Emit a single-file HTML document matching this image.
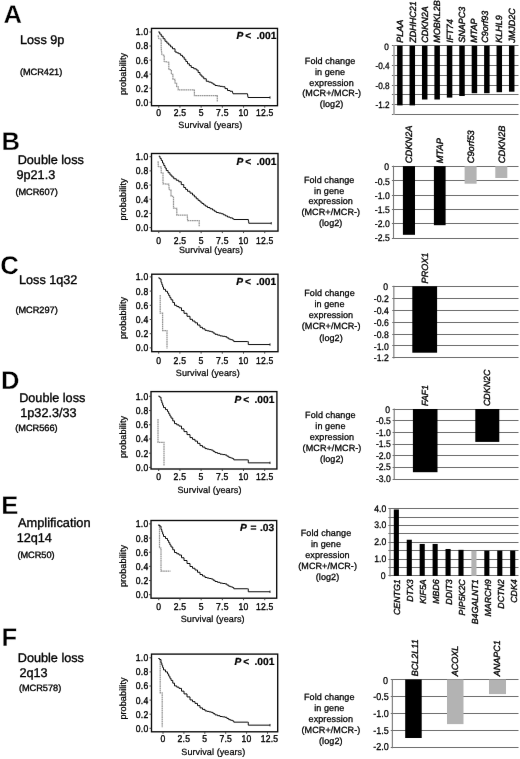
<!DOCTYPE html>
<html lang="en">
<head>
<meta charset="utf-8">
<title>Survival and gene expression by MCR</title>
<style>
html,body{margin:0;padding:0;background:#fff;}
body{width:520px;height:759px;overflow:hidden;}
svg{display:block;font-family:"Liberation Sans", sans-serif;text-rendering:geometricPrecision;}
</style>
</head>
<body>
<svg width="520" height="759" viewBox="0 0 520 759" role="img" aria-label="Kaplan-Meier survival curves and fold change in gene expression for six minimal common regions">
<defs><filter id="soft" x="0" y="0" width="520" height="759" filterUnits="userSpaceOnUse" color-interpolation-filters="sRGB"><feConvolveMatrix order="3" kernelMatrix="0.00087 0.02776 0.00087 0.02776 0.88549 0.02776 0.00087 0.02776 0.00087" divisor="1" edgeMode="duplicate" preserveAlpha="true"/></filter></defs>
<rect x="0" y="0" width="520" height="759" fill="#fff"/>
<g filter="url(#soft)">
<rect x="0" y="0" width="520" height="759" fill="#fff"/>
<g id="panel-A">
<text font-size="25.6" font-weight="bold" transform="translate(3.40 23.40) scale(1.0 1)" fill="#000" stroke="#fff" stroke-width="0.3">A</text>
<text x="20.00" y="44.30" font-size="12.66" fill="#000" stroke="#000" stroke-width="0.34">Loss 9p</text>
<text x="19.90" y="74.60" font-size="9.2" fill="#000" stroke="#000" stroke-width="0.34">(MCR421)</text>
<rect x="151.50" y="28.40" width="126.00" height="77.30" fill="none" stroke="#0a0a0a" stroke-width="1.35"/>
<line x1="149.50" y1="102.20" x2="151.50" y2="102.20" stroke="#333" stroke-width="0.9"/>
<text font-size="9.9" text-anchor="end" transform="translate(148.45 105.65) scale(0.87 1)" fill="#000" stroke="#000" stroke-width="0.36" letter-spacing="0.25">0.0</text>
<line x1="149.50" y1="88.16" x2="151.50" y2="88.16" stroke="#333" stroke-width="0.9"/>
<text font-size="9.9" text-anchor="end" transform="translate(148.45 91.61) scale(0.87 1)" fill="#000" stroke="#000" stroke-width="0.36" letter-spacing="0.25">0.2</text>
<line x1="149.50" y1="74.12" x2="151.50" y2="74.12" stroke="#333" stroke-width="0.9"/>
<text font-size="9.9" text-anchor="end" transform="translate(148.45 77.57) scale(0.87 1)" fill="#000" stroke="#000" stroke-width="0.36" letter-spacing="0.25">0.4</text>
<line x1="149.50" y1="60.08" x2="151.50" y2="60.08" stroke="#333" stroke-width="0.9"/>
<text font-size="9.9" text-anchor="end" transform="translate(148.45 63.53) scale(0.87 1)" fill="#000" stroke="#000" stroke-width="0.36" letter-spacing="0.25">0.6</text>
<line x1="149.50" y1="46.04" x2="151.50" y2="46.04" stroke="#333" stroke-width="0.9"/>
<text font-size="9.9" text-anchor="end" transform="translate(148.45 49.49) scale(0.87 1)" fill="#000" stroke="#000" stroke-width="0.36" letter-spacing="0.25">0.8</text>
<line x1="149.50" y1="32.00" x2="151.50" y2="32.00" stroke="#333" stroke-width="0.9"/>
<text font-size="9.9" text-anchor="end" transform="translate(148.45 35.45) scale(0.87 1)" fill="#000" stroke="#000" stroke-width="0.36" letter-spacing="0.25">1.0</text>
<line x1="158.75" y1="105.70" x2="158.75" y2="107.70" stroke="#333" stroke-width="0.9"/>
<text font-size="9.9" text-anchor="middle" transform="translate(158.75 115.60) scale(0.87 1)" fill="#000" stroke="#000" stroke-width="0.36" letter-spacing="0.25">0</text>
<line x1="179.95" y1="105.70" x2="179.95" y2="107.70" stroke="#333" stroke-width="0.9"/>
<text font-size="9.9" text-anchor="middle" transform="translate(179.95 115.60) scale(0.87 1)" fill="#000" stroke="#000" stroke-width="0.36" letter-spacing="0.25">2.5</text>
<line x1="201.15" y1="105.70" x2="201.15" y2="107.70" stroke="#333" stroke-width="0.9"/>
<text font-size="9.9" text-anchor="middle" transform="translate(201.15 115.60) scale(0.87 1)" fill="#000" stroke="#000" stroke-width="0.36" letter-spacing="0.25">5</text>
<line x1="222.35" y1="105.70" x2="222.35" y2="107.70" stroke="#333" stroke-width="0.9"/>
<text font-size="9.9" text-anchor="middle" transform="translate(222.35 115.60) scale(0.87 1)" fill="#000" stroke="#000" stroke-width="0.36" letter-spacing="0.25">7.5</text>
<line x1="243.55" y1="105.70" x2="243.55" y2="107.70" stroke="#333" stroke-width="0.9"/>
<text font-size="9.9" text-anchor="middle" transform="translate(243.55 115.60) scale(0.87 1)" fill="#000" stroke="#000" stroke-width="0.36" letter-spacing="0.25">10</text>
<line x1="264.75" y1="105.70" x2="264.75" y2="107.70" stroke="#333" stroke-width="0.9"/>
<text font-size="9.9" text-anchor="middle" transform="translate(264.75 115.60) scale(0.87 1)" fill="#000" stroke="#000" stroke-width="0.36" letter-spacing="0.25">12.5</text>
<text x="210.30" y="128.40" font-size="9.05" text-anchor="middle" fill="#000" stroke="#000" stroke-width="0.23" letter-spacing="0.07">Survival (years)</text>
<text font-size="9.1" text-anchor="middle" transform="translate(126.40 74.00) rotate(-90)" fill="#000" stroke="#000" stroke-width="0.23" letter-spacing="0.07">probability</text>
<text x="236.60" y="38.70" font-size="10.2" font-weight="bold" fill="#000" stroke="#000" stroke-width="0.24" style="white-space:pre"><tspan font-style="italic">P</tspan><tspan dx="1.8">&lt;</tspan><tspan dx="2.55"> .001</tspan></text>
<path d="M158.10 35.40L158.80 38.50L161.20 39.20L161.20 48.50L161.90 54.60L164.20 55.40L164.20 61.50L168.80 62.30L168.80 69.20L171.40 70.00L171.40 74.20L172.90 74.40L172.90 79.20L175.00 79.40L175.00 83.00L176.60 83.20L176.60 86.50L178.20 86.70L178.20 89.80L194.40 90.00L194.40 95.60L217.30 95.60L217.30 101.60" fill="none" stroke="#949494" stroke-width="1.25" stroke-dasharray="1.7 0.5"/>
<path d="M158.25 32.00H159.75V34.12H161.25V36.25H163.12V38.75H165.00V41.25H166.88V43.12H168.75V45.00H170.62V46.88H172.50V48.75H175.00V52.00H176.88V52.88H178.75V53.75H180.62V55.38H182.50V57.00H184.17V59.25H185.83V61.50H187.50V63.75H189.38V65.62H191.25V67.50H193.75V68.75H196.25V70.00H198.12V72.50H200.00V75.00H201.88V76.88H203.75V78.75H206.25V81.25H208.75V82.12H211.25V83.00H213.12V84.25H215.00V85.50H217.50V85.92H220.00V86.33H222.50V86.75H225.00V88.62H227.50V90.50H230.00V91.25H232.50V92.00L233.00 93.75L247.50 93.75L248.00 97.50L270.00 97.50" fill="none" stroke="#0c0c0c" stroke-width="1.0" stroke-linejoin="round"/>
<line x1="270.00" y1="96.30" x2="270.00" y2="98.70" stroke="#1a1a1a" stroke-width="0.9"/>
<line x1="391.90" y1="45.50" x2="518.50" y2="45.50" stroke="#6c6c6c" stroke-width="1.0"/>
<line x1="391.90" y1="55.50" x2="518.50" y2="55.50" stroke="#6c6c6c" stroke-width="1.0"/>
<line x1="391.90" y1="65.50" x2="518.50" y2="65.50" stroke="#6c6c6c" stroke-width="1.0"/>
<line x1="391.90" y1="75.50" x2="518.50" y2="75.50" stroke="#6c6c6c" stroke-width="1.0"/>
<line x1="391.90" y1="85.50" x2="518.50" y2="85.50" stroke="#6c6c6c" stroke-width="1.0"/>
<line x1="391.90" y1="94.50" x2="518.50" y2="94.50" stroke="#6c6c6c" stroke-width="1.0"/>
<line x1="391.90" y1="104.50" x2="518.50" y2="104.50" stroke="#6c6c6c" stroke-width="1.0"/>
<line x1="391.90" y1="114.50" x2="518.50" y2="114.50" stroke="#6c6c6c" stroke-width="1.0"/>
<line x1="394.00" y1="45.20" x2="394.00" y2="115.01" stroke="#a2a2a2" stroke-width="1.6"/>
<text font-size="9.3" text-anchor="end" transform="translate(388.90 50.45) scale(0.88 1)" fill="#000" stroke="#000" stroke-width="0.28">0</text>
<text font-size="9.3" text-anchor="end" transform="translate(389.60 69.11) scale(0.88 1)" fill="#000" stroke="#000" stroke-width="0.28">-0.4</text>
<text font-size="9.3" text-anchor="end" transform="translate(389.60 88.77) scale(0.88 1)" fill="#000" stroke="#000" stroke-width="0.28">-0.8</text>
<text font-size="9.3" text-anchor="end" transform="translate(389.60 108.43) scale(0.88 1)" fill="#000" stroke="#000" stroke-width="0.28">-1.2</text>
<rect x="397.10" y="45.70" width="5.50" height="59.70" fill="#000"/>
<rect x="409.53" y="45.70" width="5.50" height="59.70" fill="#000"/>
<rect x="421.96" y="45.70" width="5.50" height="53.80" fill="#000"/>
<rect x="434.39" y="45.70" width="5.50" height="53.80" fill="#000"/>
<rect x="446.82" y="45.70" width="5.50" height="51.90" fill="#000"/>
<rect x="459.25" y="45.70" width="5.50" height="50.30" fill="#000"/>
<rect x="471.68" y="45.70" width="5.50" height="47.50" fill="#000"/>
<rect x="484.11" y="45.70" width="5.50" height="47.50" fill="#000"/>
<rect x="496.54" y="45.70" width="5.50" height="46.50" fill="#000"/>
<rect x="508.97" y="45.70" width="5.50" height="46.00" fill="#000"/>
<text font-size="9" font-style="italic" transform="translate(402.85 42.80) rotate(-90)" fill="#000" stroke="#000" stroke-width="0.34">PLAA</text>
<text font-size="9" font-style="italic" transform="translate(415.58 42.80) rotate(-90)" fill="#000" stroke="#000" stroke-width="0.34">ZDHHC21</text>
<text font-size="9" font-style="italic" transform="translate(427.71 42.80) rotate(-90)" fill="#000" stroke="#000" stroke-width="0.34">CDKN2A</text>
<text font-size="9" font-style="italic" transform="translate(440.14 42.80) rotate(-90)" fill="#000" stroke="#000" stroke-width="0.34">MOBKL2B</text>
<text font-size="9" font-style="italic" transform="translate(452.57 42.80) rotate(-90)" fill="#000" stroke="#000" stroke-width="0.34">IFT74</text>
<text font-size="9" font-style="italic" transform="translate(464.60 42.80) rotate(-90)" fill="#000" stroke="#000" stroke-width="0.34">SNAPC3</text>
<text font-size="9" font-style="italic" transform="translate(477.43 42.80) rotate(-90)" fill="#000" stroke="#000" stroke-width="0.34">MTAP</text>
<text font-size="9" font-style="italic" transform="translate(487.86 42.80) rotate(-90)" fill="#000" stroke="#000" stroke-width="0.34">C9orf93</text>
<text font-size="9" font-style="italic" transform="translate(502.29 42.80) rotate(-90)" fill="#000" stroke="#000" stroke-width="0.34">KLHL9</text>
<text font-size="9" font-style="italic" transform="translate(514.72 42.80) rotate(-90)" fill="#000" stroke="#000" stroke-width="0.34">JMJD2C</text>
<text x="330.10" y="64.30" font-size="9.05" text-anchor="middle" fill="#000" stroke="#000" stroke-width="0.26" letter-spacing="0.07">Fold change</text>
<text x="330.10" y="75.00" font-size="9.05" text-anchor="middle" fill="#000" stroke="#000" stroke-width="0.26" letter-spacing="0.07">in gene</text>
<text x="331.60" y="85.70" font-size="9.05" text-anchor="middle" fill="#000" stroke="#000" stroke-width="0.26" letter-spacing="0.07">expression</text>
<text x="331.70" y="96.40" font-size="9.05" text-anchor="middle" fill="#000" stroke="#000" stroke-width="0.26" letter-spacing="0.07">(MCR+/MCR-)</text>
<text x="331.60" y="107.10" font-size="9.05" text-anchor="middle" fill="#000" stroke="#000" stroke-width="0.26" letter-spacing="0.07">(log2)</text>
</g>
<g id="panel-B">
<text font-size="25.6" font-weight="bold" transform="translate(1.60 150.00) scale(1.0 1)" fill="#000" stroke="#fff" stroke-width="0.3">B</text>
<text x="17.70" y="163.80" font-size="12.66" fill="#000" stroke="#000" stroke-width="0.34">Double loss</text>
<text x="16.50" y="178.80" font-size="12.66" fill="#000" stroke="#000" stroke-width="0.34">9p21.3</text>
<text x="15.40" y="194.50" font-size="9.2" fill="#000" stroke="#000" stroke-width="0.34">(MCR607)</text>
<rect x="151.50" y="153.50" width="126.50" height="77.60" fill="none" stroke="#0a0a0a" stroke-width="1.35"/>
<line x1="149.50" y1="227.60" x2="151.50" y2="227.60" stroke="#333" stroke-width="0.9"/>
<text font-size="9.9" text-anchor="end" transform="translate(148.45 231.05) scale(0.87 1)" fill="#000" stroke="#000" stroke-width="0.36" letter-spacing="0.25">0.0</text>
<line x1="149.50" y1="213.42" x2="151.50" y2="213.42" stroke="#333" stroke-width="0.9"/>
<text font-size="9.9" text-anchor="end" transform="translate(148.45 216.87) scale(0.87 1)" fill="#000" stroke="#000" stroke-width="0.36" letter-spacing="0.25">0.2</text>
<line x1="149.50" y1="199.24" x2="151.50" y2="199.24" stroke="#333" stroke-width="0.9"/>
<text font-size="9.9" text-anchor="end" transform="translate(148.45 202.69) scale(0.87 1)" fill="#000" stroke="#000" stroke-width="0.36" letter-spacing="0.25">0.4</text>
<line x1="149.50" y1="185.06" x2="151.50" y2="185.06" stroke="#333" stroke-width="0.9"/>
<text font-size="9.9" text-anchor="end" transform="translate(148.45 188.51) scale(0.87 1)" fill="#000" stroke="#000" stroke-width="0.36" letter-spacing="0.25">0.6</text>
<line x1="149.50" y1="170.88" x2="151.50" y2="170.88" stroke="#333" stroke-width="0.9"/>
<text font-size="9.9" text-anchor="end" transform="translate(148.45 174.33) scale(0.87 1)" fill="#000" stroke="#000" stroke-width="0.36" letter-spacing="0.25">0.8</text>
<line x1="149.50" y1="156.70" x2="151.50" y2="156.70" stroke="#333" stroke-width="0.9"/>
<text font-size="9.9" text-anchor="end" transform="translate(148.45 160.15) scale(0.87 1)" fill="#000" stroke="#000" stroke-width="0.36" letter-spacing="0.25">1.0</text>
<line x1="158.75" y1="231.10" x2="158.75" y2="233.10" stroke="#333" stroke-width="0.9"/>
<text font-size="9.9" text-anchor="middle" transform="translate(158.75 243.60) scale(0.87 1)" fill="#000" stroke="#000" stroke-width="0.36" letter-spacing="0.25">0</text>
<line x1="179.95" y1="231.10" x2="179.95" y2="233.10" stroke="#333" stroke-width="0.9"/>
<text font-size="9.9" text-anchor="middle" transform="translate(179.95 243.60) scale(0.87 1)" fill="#000" stroke="#000" stroke-width="0.36" letter-spacing="0.25">2.5</text>
<line x1="201.15" y1="231.10" x2="201.15" y2="233.10" stroke="#333" stroke-width="0.9"/>
<text font-size="9.9" text-anchor="middle" transform="translate(201.15 243.60) scale(0.87 1)" fill="#000" stroke="#000" stroke-width="0.36" letter-spacing="0.25">5</text>
<line x1="222.35" y1="231.10" x2="222.35" y2="233.10" stroke="#333" stroke-width="0.9"/>
<text font-size="9.9" text-anchor="middle" transform="translate(222.35 243.60) scale(0.87 1)" fill="#000" stroke="#000" stroke-width="0.36" letter-spacing="0.25">7.5</text>
<line x1="243.55" y1="231.10" x2="243.55" y2="233.10" stroke="#333" stroke-width="0.9"/>
<text font-size="9.9" text-anchor="middle" transform="translate(243.55 243.60) scale(0.87 1)" fill="#000" stroke="#000" stroke-width="0.36" letter-spacing="0.25">10</text>
<line x1="264.75" y1="231.10" x2="264.75" y2="233.10" stroke="#333" stroke-width="0.9"/>
<text font-size="9.9" text-anchor="middle" transform="translate(264.75 243.60) scale(0.87 1)" fill="#000" stroke="#000" stroke-width="0.36" letter-spacing="0.25">12.5</text>
<text x="211.00" y="253.40" font-size="9.05" text-anchor="middle" fill="#000" stroke="#000" stroke-width="0.23" letter-spacing="0.07">Survival (years)</text>
<text font-size="9.1" text-anchor="middle" transform="translate(126.40 199.50) rotate(-90)" fill="#000" stroke="#000" stroke-width="0.23" letter-spacing="0.07">probability</text>
<text x="236.60" y="164.50" font-size="10.2" font-weight="bold" fill="#000" stroke="#000" stroke-width="0.24" style="white-space:pre"><tspan font-style="italic">P</tspan><tspan dx="1.8">&lt;</tspan><tspan dx="2.55"> .001</tspan></text>
<path d="M158.10 161.20L158.30 166.50L161.20 167.00L161.20 172.70L163.00 173.00L163.00 183.80L168.80 184.20L169.20 189.60L171.00 190.00L171.00 196.00L173.50 196.50L173.50 208.10L176.80 208.40L176.80 215.00L187.30 215.00L187.60 220.60L199.20 220.70L199.20 226.50" fill="none" stroke="#949494" stroke-width="1.25" stroke-dasharray="1.7 0.5"/>
<path d="M158.75 156.25H160.00V158.38H161.25V160.50H162.50V163.00H163.75V165.50H165.00V168.00H166.25V170.50H168.12V172.75H170.00V175.00H171.88V176.88H173.75V178.75H176.25V180.25H178.75V181.75H181.25V184.62H183.75V187.50H185.62V189.38H187.50V191.25H190.00V193.12H192.50V195.00H194.38V196.88H196.25V198.75H198.12V200.38H200.00V202.00H201.88V203.50H203.75V205.00H205.62V206.25H207.50V207.50H210.00V208.75H212.50V210.00H214.38V211.25H216.25V212.50H218.75V213.12H221.25V213.75H223.33V214.83H225.42V215.92H227.50V217.00H230.00V217.88H232.50V218.75H233.75V219.50L248.00 219.50H248.38V221.38H248.75V223.25L271.25 223.25" fill="none" stroke="#0c0c0c" stroke-width="1.0" stroke-linejoin="round"/>
<line x1="271.25" y1="222.05" x2="271.25" y2="224.45" stroke="#1a1a1a" stroke-width="0.9"/>
<line x1="391.90" y1="166.50" x2="518.50" y2="166.50" stroke="#6c6c6c" stroke-width="1.0"/>
<line x1="391.90" y1="180.50" x2="518.50" y2="180.50" stroke="#6c6c6c" stroke-width="1.0"/>
<line x1="391.90" y1="195.50" x2="518.50" y2="195.50" stroke="#6c6c6c" stroke-width="1.0"/>
<line x1="391.90" y1="209.50" x2="518.50" y2="209.50" stroke="#6c6c6c" stroke-width="1.0"/>
<line x1="391.90" y1="223.50" x2="518.50" y2="223.50" stroke="#6c6c6c" stroke-width="1.0"/>
<line x1="391.90" y1="238.50" x2="518.50" y2="238.50" stroke="#6c6c6c" stroke-width="1.0"/>
<line x1="393.50" y1="165.70" x2="393.50" y2="238.70" stroke="#777" stroke-width="1.1"/>
<text font-size="9.6" text-anchor="end" transform="translate(389.00 170.45) scale(0.9 1)" fill="#000" stroke="#000" stroke-width="0.28">0</text>
<text font-size="9.6" text-anchor="end" transform="translate(389.70 184.55) scale(0.9 1)" fill="#000" stroke="#000" stroke-width="0.28">-0.5</text>
<text font-size="9.6" text-anchor="end" transform="translate(389.70 198.65) scale(0.9 1)" fill="#000" stroke="#000" stroke-width="0.28">-1.0</text>
<text font-size="9.6" text-anchor="end" transform="translate(389.70 212.75) scale(0.9 1)" fill="#000" stroke="#000" stroke-width="0.28">-1.5</text>
<text font-size="9.6" text-anchor="end" transform="translate(389.70 226.85) scale(0.9 1)" fill="#000" stroke="#000" stroke-width="0.28">-2.0</text>
<text font-size="9.6" text-anchor="end" transform="translate(389.70 240.95) scale(0.9 1)" fill="#000" stroke="#000" stroke-width="0.28">-2.5</text>
<rect x="402.90" y="166.20" width="12.10" height="68.60" fill="#000"/>
<rect x="433.90" y="166.20" width="11.70" height="59.00" fill="#000"/>
<rect x="464.60" y="166.20" width="12.00" height="17.50" fill="#b3b3b3"/>
<rect x="495.30" y="166.20" width="12.00" height="11.80" fill="#b3b3b3"/>
<text font-size="9.3" font-style="italic" transform="translate(412.45 163.30) rotate(-90)" fill="#000" stroke="#000" stroke-width="0.34">CDKN2A</text>
<text font-size="9.3" font-style="italic" transform="translate(443.25 163.30) rotate(-90)" fill="#000" stroke="#000" stroke-width="0.34">MTAP</text>
<text font-size="9.3" font-style="italic" transform="translate(474.10 163.30) rotate(-90)" fill="#000" stroke="#000" stroke-width="0.34">C9orf53</text>
<text font-size="9.3" font-style="italic" transform="translate(504.80 163.30) rotate(-90)" fill="#000" stroke="#000" stroke-width="0.34">CDKN2B</text>
<text x="329.20" y="183.10" font-size="9.05" text-anchor="middle" fill="#000" stroke="#000" stroke-width="0.26" letter-spacing="0.07">Fold change</text>
<text x="329.20" y="193.70" font-size="9.05" text-anchor="middle" fill="#000" stroke="#000" stroke-width="0.26" letter-spacing="0.07">in gene</text>
<text x="330.70" y="204.30" font-size="9.05" text-anchor="middle" fill="#000" stroke="#000" stroke-width="0.26" letter-spacing="0.07">expression</text>
<text x="330.80" y="214.90" font-size="9.05" text-anchor="middle" fill="#000" stroke="#000" stroke-width="0.26" letter-spacing="0.07">(MCR+/MCR-)</text>
<text x="330.70" y="225.50" font-size="9.05" text-anchor="middle" fill="#000" stroke="#000" stroke-width="0.26" letter-spacing="0.07">(log2)</text>
</g>
<g id="panel-C">
<text font-size="25.6" font-weight="bold" transform="translate(0.30 273.80) scale(1.0 1)" fill="#000" stroke="#fff" stroke-width="0.3">C</text>
<text x="19.00" y="283.80" font-size="12.66" fill="#000" stroke="#000" stroke-width="0.34">Loss 1q32</text>
<text x="15.40" y="312.50" font-size="9.2" fill="#000" stroke="#000" stroke-width="0.34">(MCR297)</text>
<rect x="151.75" y="274.20" width="126.25" height="77.50" fill="none" stroke="#0a0a0a" stroke-width="1.35"/>
<line x1="149.75" y1="347.90" x2="151.75" y2="347.90" stroke="#333" stroke-width="0.9"/>
<text font-size="9.9" text-anchor="end" transform="translate(148.45 351.35) scale(0.87 1)" fill="#000" stroke="#000" stroke-width="0.36" letter-spacing="0.25">0.0</text>
<line x1="149.75" y1="333.70" x2="151.75" y2="333.70" stroke="#333" stroke-width="0.9"/>
<text font-size="9.9" text-anchor="end" transform="translate(148.45 337.15) scale(0.87 1)" fill="#000" stroke="#000" stroke-width="0.36" letter-spacing="0.25">0.2</text>
<line x1="149.75" y1="319.50" x2="151.75" y2="319.50" stroke="#333" stroke-width="0.9"/>
<text font-size="9.9" text-anchor="end" transform="translate(148.45 322.95) scale(0.87 1)" fill="#000" stroke="#000" stroke-width="0.36" letter-spacing="0.25">0.4</text>
<line x1="149.75" y1="305.30" x2="151.75" y2="305.30" stroke="#333" stroke-width="0.9"/>
<text font-size="9.9" text-anchor="end" transform="translate(148.45 308.75) scale(0.87 1)" fill="#000" stroke="#000" stroke-width="0.36" letter-spacing="0.25">0.6</text>
<line x1="149.75" y1="291.10" x2="151.75" y2="291.10" stroke="#333" stroke-width="0.9"/>
<text font-size="9.9" text-anchor="end" transform="translate(148.45 294.55) scale(0.87 1)" fill="#000" stroke="#000" stroke-width="0.36" letter-spacing="0.25">0.8</text>
<line x1="149.75" y1="276.90" x2="151.75" y2="276.90" stroke="#333" stroke-width="0.9"/>
<text font-size="9.9" text-anchor="end" transform="translate(148.45 280.35) scale(0.87 1)" fill="#000" stroke="#000" stroke-width="0.36" letter-spacing="0.25">1.0</text>
<line x1="158.70" y1="351.70" x2="158.70" y2="353.70" stroke="#333" stroke-width="0.9"/>
<text font-size="9.9" text-anchor="middle" transform="translate(158.70 364.00) scale(0.87 1)" fill="#000" stroke="#000" stroke-width="0.36" letter-spacing="0.25">0</text>
<line x1="179.90" y1="351.70" x2="179.90" y2="353.70" stroke="#333" stroke-width="0.9"/>
<text font-size="9.9" text-anchor="middle" transform="translate(179.90 364.00) scale(0.87 1)" fill="#000" stroke="#000" stroke-width="0.36" letter-spacing="0.25">2.5</text>
<line x1="201.10" y1="351.70" x2="201.10" y2="353.70" stroke="#333" stroke-width="0.9"/>
<text font-size="9.9" text-anchor="middle" transform="translate(201.10 364.00) scale(0.87 1)" fill="#000" stroke="#000" stroke-width="0.36" letter-spacing="0.25">5</text>
<line x1="222.30" y1="351.70" x2="222.30" y2="353.70" stroke="#333" stroke-width="0.9"/>
<text font-size="9.9" text-anchor="middle" transform="translate(222.30 364.00) scale(0.87 1)" fill="#000" stroke="#000" stroke-width="0.36" letter-spacing="0.25">7.5</text>
<line x1="243.50" y1="351.70" x2="243.50" y2="353.70" stroke="#333" stroke-width="0.9"/>
<text font-size="9.9" text-anchor="middle" transform="translate(243.50 364.00) scale(0.87 1)" fill="#000" stroke="#000" stroke-width="0.36" letter-spacing="0.25">10</text>
<line x1="264.70" y1="351.70" x2="264.70" y2="353.70" stroke="#333" stroke-width="0.9"/>
<text font-size="9.9" text-anchor="middle" transform="translate(264.70 364.00) scale(0.87 1)" fill="#000" stroke="#000" stroke-width="0.36" letter-spacing="0.25">12.5</text>
<text x="207.80" y="375.80" font-size="9.05" text-anchor="middle" fill="#000" stroke="#000" stroke-width="0.23" letter-spacing="0.07">Survival (years)</text>
<text font-size="9.1" text-anchor="middle" transform="translate(126.40 318.00) rotate(-90)" fill="#000" stroke="#000" stroke-width="0.23" letter-spacing="0.07">probability</text>
<text x="236.30" y="284.80" font-size="10.2" font-weight="bold" fill="#000" stroke="#000" stroke-width="0.24" style="white-space:pre"><tspan font-style="italic">P</tspan><tspan dx="1.8">&lt;</tspan><tspan dx="2.55"> .001</tspan></text>
<path d="M160.20 295.00L160.20 313.00L162.60 313.00L162.60 330.50L167.00 330.50L167.00 348.60" fill="none" stroke="#949494" stroke-width="1.25" stroke-dasharray="1.7 0.5"/>
<path d="M158.30 277.90H159.60V278.90H161.00V282.30H161.83V284.63H162.67V286.97H163.50V289.30H165.50V291.30H167.50V293.30H168.67V295.47H169.83V297.63H171.00V299.80H172.75V302.55H174.50V305.30H176.75V306.55H179.00V307.80H181.50V310.55H184.00V313.30H187.00V316.30H190.00V319.30H192.50V321.05H195.00V322.80H197.50V325.05H200.00V327.30H202.50V328.80H205.00V330.30H207.08V330.80H209.17V331.30H211.25V331.80H213.12V333.05H215.00V334.30H217.50V335.10H220.00V335.90H222.50V336.30H225.00V336.70H226.88V337.88H228.75V339.05H230.62V339.68H232.50V340.30H233.75V341.55L247.50 341.55H248.25V344.55L270.00 344.55" fill="none" stroke="#0c0c0c" stroke-width="1.0" stroke-linejoin="round"/>
<line x1="270.00" y1="343.35" x2="270.00" y2="345.75" stroke="#1a1a1a" stroke-width="0.9"/>
<line x1="392.25" y1="286.50" x2="518.50" y2="286.50" stroke="#6c6c6c" stroke-width="1.0"/>
<line x1="392.25" y1="298.50" x2="518.50" y2="298.50" stroke="#6c6c6c" stroke-width="1.0"/>
<line x1="392.25" y1="310.50" x2="518.50" y2="310.50" stroke="#6c6c6c" stroke-width="1.0"/>
<line x1="392.25" y1="322.50" x2="518.50" y2="322.50" stroke="#6c6c6c" stroke-width="1.0"/>
<line x1="392.25" y1="334.50" x2="518.50" y2="334.50" stroke="#6c6c6c" stroke-width="1.0"/>
<line x1="392.25" y1="345.50" x2="518.50" y2="345.50" stroke="#6c6c6c" stroke-width="1.0"/>
<line x1="392.25" y1="357.50" x2="518.50" y2="357.50" stroke="#6c6c6c" stroke-width="1.0"/>
<line x1="393.85" y1="285.80" x2="393.85" y2="358.38" stroke="#777" stroke-width="1.1"/>
<text font-size="9.6" text-anchor="end" transform="translate(388.00 289.85) scale(0.9 1)" fill="#000" stroke="#000" stroke-width="0.28">0</text>
<text font-size="9.6" text-anchor="end" transform="translate(388.70 301.78) scale(0.9 1)" fill="#000" stroke="#000" stroke-width="0.28">-0.2</text>
<text font-size="9.6" text-anchor="end" transform="translate(388.70 313.71) scale(0.9 1)" fill="#000" stroke="#000" stroke-width="0.28">-0.4</text>
<text font-size="9.6" text-anchor="end" transform="translate(388.70 325.64) scale(0.9 1)" fill="#000" stroke="#000" stroke-width="0.28">-0.6</text>
<text font-size="9.6" text-anchor="end" transform="translate(388.70 337.57) scale(0.9 1)" fill="#000" stroke="#000" stroke-width="0.28">-0.8</text>
<text font-size="9.6" text-anchor="end" transform="translate(388.70 349.50) scale(0.9 1)" fill="#000" stroke="#000" stroke-width="0.28">-1.0</text>
<text font-size="9.6" text-anchor="end" transform="translate(388.70 361.43) scale(0.9 1)" fill="#000" stroke="#000" stroke-width="0.28">-1.2</text>
<rect x="412.30" y="286.30" width="24.80" height="66.40" fill="#000"/>
<text font-size="9.1" font-style="italic" transform="translate(428.00 283.40) rotate(-90)" fill="#000" stroke="#000" stroke-width="0.34">PROX1</text>
<text x="329.50" y="296.30" font-size="9.05" text-anchor="middle" fill="#000" stroke="#000" stroke-width="0.26" letter-spacing="0.07">Fold change</text>
<text x="329.50" y="307.35" font-size="9.05" text-anchor="middle" fill="#000" stroke="#000" stroke-width="0.26" letter-spacing="0.07">in gene</text>
<text x="331.00" y="318.40" font-size="9.05" text-anchor="middle" fill="#000" stroke="#000" stroke-width="0.26" letter-spacing="0.07">expression</text>
<text x="331.10" y="329.45" font-size="9.05" text-anchor="middle" fill="#000" stroke="#000" stroke-width="0.26" letter-spacing="0.07">(MCR+/MCR-)</text>
<text x="331.00" y="340.50" font-size="9.05" text-anchor="middle" fill="#000" stroke="#000" stroke-width="0.26" letter-spacing="0.07">(log2)</text>
</g>
<g id="panel-D">
<text font-size="25.6" font-weight="bold" transform="translate(1.10 388.50) scale(1.0 1)" fill="#000" stroke="#fff" stroke-width="0.3">D</text>
<text x="19.20" y="401.90" font-size="12.66" fill="#000" stroke="#000" stroke-width="0.34">Double loss</text>
<text x="20.30" y="416.90" font-size="12.66" fill="#000" stroke="#000" stroke-width="0.34">1p32.3/33</text>
<text x="15.20" y="430.80" font-size="9.2" fill="#000" stroke="#000" stroke-width="0.34">(MCR566)</text>
<rect x="151.00" y="391.60" width="125.90" height="77.40" fill="none" stroke="#0a0a0a" stroke-width="1.35"/>
<line x1="149.00" y1="467.40" x2="151.00" y2="467.40" stroke="#333" stroke-width="0.9"/>
<text font-size="9.9" text-anchor="end" transform="translate(148.45 470.85) scale(0.87 1)" fill="#000" stroke="#000" stroke-width="0.36" letter-spacing="0.25">0.0</text>
<line x1="149.00" y1="453.18" x2="151.00" y2="453.18" stroke="#333" stroke-width="0.9"/>
<text font-size="9.9" text-anchor="end" transform="translate(148.45 456.63) scale(0.87 1)" fill="#000" stroke="#000" stroke-width="0.36" letter-spacing="0.25">0.2</text>
<line x1="149.00" y1="438.96" x2="151.00" y2="438.96" stroke="#333" stroke-width="0.9"/>
<text font-size="9.9" text-anchor="end" transform="translate(148.45 442.41) scale(0.87 1)" fill="#000" stroke="#000" stroke-width="0.36" letter-spacing="0.25">0.4</text>
<line x1="149.00" y1="424.74" x2="151.00" y2="424.74" stroke="#333" stroke-width="0.9"/>
<text font-size="9.9" text-anchor="end" transform="translate(148.45 428.19) scale(0.87 1)" fill="#000" stroke="#000" stroke-width="0.36" letter-spacing="0.25">0.6</text>
<line x1="149.00" y1="410.52" x2="151.00" y2="410.52" stroke="#333" stroke-width="0.9"/>
<text font-size="9.9" text-anchor="end" transform="translate(148.45 413.97) scale(0.87 1)" fill="#000" stroke="#000" stroke-width="0.36" letter-spacing="0.25">0.8</text>
<line x1="149.00" y1="396.30" x2="151.00" y2="396.30" stroke="#333" stroke-width="0.9"/>
<text font-size="9.9" text-anchor="end" transform="translate(148.45 399.75) scale(0.87 1)" fill="#000" stroke="#000" stroke-width="0.36" letter-spacing="0.25">1.0</text>
<line x1="158.70" y1="469.00" x2="158.70" y2="471.00" stroke="#333" stroke-width="0.9"/>
<text font-size="9.9" text-anchor="middle" transform="translate(158.70 480.40) scale(0.87 1)" fill="#000" stroke="#000" stroke-width="0.36" letter-spacing="0.25">0</text>
<line x1="179.90" y1="469.00" x2="179.90" y2="471.00" stroke="#333" stroke-width="0.9"/>
<text font-size="9.9" text-anchor="middle" transform="translate(179.90 480.40) scale(0.87 1)" fill="#000" stroke="#000" stroke-width="0.36" letter-spacing="0.25">2.5</text>
<line x1="201.10" y1="469.00" x2="201.10" y2="471.00" stroke="#333" stroke-width="0.9"/>
<text font-size="9.9" text-anchor="middle" transform="translate(201.10 480.40) scale(0.87 1)" fill="#000" stroke="#000" stroke-width="0.36" letter-spacing="0.25">5</text>
<line x1="222.30" y1="469.00" x2="222.30" y2="471.00" stroke="#333" stroke-width="0.9"/>
<text font-size="9.9" text-anchor="middle" transform="translate(222.30 480.40) scale(0.87 1)" fill="#000" stroke="#000" stroke-width="0.36" letter-spacing="0.25">7.5</text>
<line x1="243.50" y1="469.00" x2="243.50" y2="471.00" stroke="#333" stroke-width="0.9"/>
<text font-size="9.9" text-anchor="middle" transform="translate(243.50 480.40) scale(0.87 1)" fill="#000" stroke="#000" stroke-width="0.36" letter-spacing="0.25">10</text>
<line x1="264.70" y1="469.00" x2="264.70" y2="471.00" stroke="#333" stroke-width="0.9"/>
<text font-size="9.9" text-anchor="middle" transform="translate(264.70 480.40) scale(0.87 1)" fill="#000" stroke="#000" stroke-width="0.36" letter-spacing="0.25">12.5</text>
<text x="209.50" y="493.40" font-size="9.05" text-anchor="middle" fill="#000" stroke="#000" stroke-width="0.23" letter-spacing="0.07">Survival (years)</text>
<text font-size="9.1" text-anchor="middle" transform="translate(126.40 437.00) rotate(-90)" fill="#000" stroke="#000" stroke-width="0.23" letter-spacing="0.07">probability</text>
<text x="234.60" y="402.90" font-size="10.2" font-weight="bold" fill="#000" stroke="#000" stroke-width="0.24" style="white-space:pre"><tspan font-style="italic">P</tspan><tspan dx="1.8">&lt;</tspan><tspan dx="2.55"> .001</tspan></text>
<path d="M158.00 419.00L158.00 442.30L164.00 442.30L164.00 466.00" fill="none" stroke="#949494" stroke-width="1.25" stroke-dasharray="1.7 0.5"/>
<path d="M158.30 396.20H159.60V397.20H161.00V400.60H161.83V402.93H162.67V405.27H163.50V407.60H165.50V409.60H167.50V411.60H168.67V413.77H169.83V415.93H171.00V418.10H172.75V420.85H174.50V423.60H176.75V424.85H179.00V426.10H181.50V428.85H184.00V431.60H187.00V434.60H190.00V437.60H192.50V439.35H195.00V441.10H197.50V443.35H200.00V445.60H202.50V447.10H205.00V448.60H207.08V449.10H209.17V449.60H211.25V450.10H213.12V451.35H215.00V452.60H217.50V453.40H220.00V454.20H222.50V454.60H225.00V455.00H226.88V456.18H228.75V457.35H230.62V457.98H232.50V458.60H233.75V459.85L247.50 459.85H248.25V462.85L270.00 462.85" fill="none" stroke="#0c0c0c" stroke-width="1.0" stroke-linejoin="round"/>
<line x1="270.00" y1="461.65" x2="270.00" y2="464.05" stroke="#1a1a1a" stroke-width="0.9"/>
<line x1="392.60" y1="409.50" x2="518.50" y2="409.50" stroke="#6c6c6c" stroke-width="1.0"/>
<line x1="392.60" y1="420.50" x2="518.50" y2="420.50" stroke="#6c6c6c" stroke-width="1.0"/>
<line x1="392.60" y1="432.50" x2="518.50" y2="432.50" stroke="#6c6c6c" stroke-width="1.0"/>
<line x1="392.60" y1="444.50" x2="518.50" y2="444.50" stroke="#6c6c6c" stroke-width="1.0"/>
<line x1="392.60" y1="455.50" x2="518.50" y2="455.50" stroke="#6c6c6c" stroke-width="1.0"/>
<line x1="392.60" y1="467.50" x2="518.50" y2="467.50" stroke="#6c6c6c" stroke-width="1.0"/>
<line x1="392.60" y1="479.50" x2="518.50" y2="479.50" stroke="#6c6c6c" stroke-width="1.0"/>
<line x1="394.20" y1="408.50" x2="394.20" y2="479.52" stroke="#777" stroke-width="1.1"/>
<text font-size="9.6" text-anchor="end" transform="translate(390.10 412.65) scale(0.9 1)" fill="#000" stroke="#000" stroke-width="0.28">0</text>
<text font-size="9.6" text-anchor="end" transform="translate(390.80 424.15) scale(0.9 1)" fill="#000" stroke="#000" stroke-width="0.28">-0.5</text>
<text font-size="9.6" text-anchor="end" transform="translate(390.80 435.65) scale(0.9 1)" fill="#000" stroke="#000" stroke-width="0.28">-1.0</text>
<text font-size="9.6" text-anchor="end" transform="translate(390.80 447.15) scale(0.9 1)" fill="#000" stroke="#000" stroke-width="0.28">-1.5</text>
<text font-size="9.6" text-anchor="end" transform="translate(390.80 458.65) scale(0.9 1)" fill="#000" stroke="#000" stroke-width="0.28">-2.0</text>
<text font-size="9.6" text-anchor="end" transform="translate(390.80 470.15) scale(0.9 1)" fill="#000" stroke="#000" stroke-width="0.28">-2.5</text>
<text font-size="9.6" text-anchor="end" transform="translate(390.80 481.65) scale(0.9 1)" fill="#000" stroke="#000" stroke-width="0.28">-3.0</text>
<rect x="412.90" y="409.00" width="24.60" height="63.20" fill="#000"/>
<rect x="475.30" y="409.00" width="24.00" height="32.90" fill="#000"/>
<text font-size="8.9" font-style="italic" transform="translate(428.10 406.10) rotate(-90)" fill="#000" stroke="#000" stroke-width="0.34">FAF1</text>
<text font-size="8.9" font-style="italic" transform="translate(490.20 406.10) rotate(-90)" fill="#000" stroke="#000" stroke-width="0.34">CDKN2C</text>
<text x="330.40" y="418.10" font-size="9.05" text-anchor="middle" fill="#000" stroke="#000" stroke-width="0.26" letter-spacing="0.07">Fold change</text>
<text x="330.40" y="429.10" font-size="9.05" text-anchor="middle" fill="#000" stroke="#000" stroke-width="0.26" letter-spacing="0.07">in gene</text>
<text x="331.90" y="440.10" font-size="9.05" text-anchor="middle" fill="#000" stroke="#000" stroke-width="0.26" letter-spacing="0.07">expression</text>
<text x="332.00" y="451.10" font-size="9.05" text-anchor="middle" fill="#000" stroke="#000" stroke-width="0.26" letter-spacing="0.07">(MCR+/MCR-)</text>
<text x="331.90" y="462.10" font-size="9.05" text-anchor="middle" fill="#000" stroke="#000" stroke-width="0.26" letter-spacing="0.07">(log2)</text>
</g>
<g id="panel-E">
<text font-size="25.6" font-weight="bold" transform="translate(1.20 513.80) scale(1.0 1)" fill="#000" stroke="#fff" stroke-width="0.3">E</text>
<text x="18.00" y="527.30" font-size="12.8182" fill="#000" stroke="#000" stroke-width="0.34">Amplification</text>
<text x="16.70" y="542.20" font-size="12.66" fill="#000" stroke="#000" stroke-width="0.34">12q14</text>
<text x="17.40" y="557.60" font-size="9.2" fill="#000" stroke="#000" stroke-width="0.34">(MCR50)</text>
<rect x="151.00" y="520.50" width="125.70" height="77.70" fill="none" stroke="#0a0a0a" stroke-width="1.35"/>
<line x1="149.00" y1="594.70" x2="151.00" y2="594.70" stroke="#333" stroke-width="0.9"/>
<text font-size="9.9" text-anchor="end" transform="translate(148.45 598.15) scale(0.87 1)" fill="#000" stroke="#000" stroke-width="0.36" letter-spacing="0.25">0.0</text>
<line x1="149.00" y1="580.54" x2="151.00" y2="580.54" stroke="#333" stroke-width="0.9"/>
<text font-size="9.9" text-anchor="end" transform="translate(148.45 583.99) scale(0.87 1)" fill="#000" stroke="#000" stroke-width="0.36" letter-spacing="0.25">0.2</text>
<line x1="149.00" y1="566.38" x2="151.00" y2="566.38" stroke="#333" stroke-width="0.9"/>
<text font-size="9.9" text-anchor="end" transform="translate(148.45 569.83) scale(0.87 1)" fill="#000" stroke="#000" stroke-width="0.36" letter-spacing="0.25">0.4</text>
<line x1="149.00" y1="552.22" x2="151.00" y2="552.22" stroke="#333" stroke-width="0.9"/>
<text font-size="9.9" text-anchor="end" transform="translate(148.45 555.67) scale(0.87 1)" fill="#000" stroke="#000" stroke-width="0.36" letter-spacing="0.25">0.6</text>
<line x1="149.00" y1="538.06" x2="151.00" y2="538.06" stroke="#333" stroke-width="0.9"/>
<text font-size="9.9" text-anchor="end" transform="translate(148.45 541.51) scale(0.87 1)" fill="#000" stroke="#000" stroke-width="0.36" letter-spacing="0.25">0.8</text>
<line x1="149.00" y1="523.90" x2="151.00" y2="523.90" stroke="#333" stroke-width="0.9"/>
<text font-size="9.9" text-anchor="end" transform="translate(148.45 527.35) scale(0.87 1)" fill="#000" stroke="#000" stroke-width="0.36" letter-spacing="0.25">1.0</text>
<line x1="158.75" y1="598.20" x2="158.75" y2="600.20" stroke="#333" stroke-width="0.9"/>
<text font-size="9.9" text-anchor="middle" transform="translate(158.75 609.50) scale(0.87 1)" fill="#000" stroke="#000" stroke-width="0.36" letter-spacing="0.25">0</text>
<line x1="179.95" y1="598.20" x2="179.95" y2="600.20" stroke="#333" stroke-width="0.9"/>
<text font-size="9.9" text-anchor="middle" transform="translate(179.95 609.50) scale(0.87 1)" fill="#000" stroke="#000" stroke-width="0.36" letter-spacing="0.25">2.5</text>
<line x1="201.15" y1="598.20" x2="201.15" y2="600.20" stroke="#333" stroke-width="0.9"/>
<text font-size="9.9" text-anchor="middle" transform="translate(201.15 609.50) scale(0.87 1)" fill="#000" stroke="#000" stroke-width="0.36" letter-spacing="0.25">5</text>
<line x1="222.35" y1="598.20" x2="222.35" y2="600.20" stroke="#333" stroke-width="0.9"/>
<text font-size="9.9" text-anchor="middle" transform="translate(222.35 609.50) scale(0.87 1)" fill="#000" stroke="#000" stroke-width="0.36" letter-spacing="0.25">7.5</text>
<line x1="243.55" y1="598.20" x2="243.55" y2="600.20" stroke="#333" stroke-width="0.9"/>
<text font-size="9.9" text-anchor="middle" transform="translate(243.55 609.50) scale(0.87 1)" fill="#000" stroke="#000" stroke-width="0.36" letter-spacing="0.25">10</text>
<line x1="264.75" y1="598.20" x2="264.75" y2="600.20" stroke="#333" stroke-width="0.9"/>
<text font-size="9.9" text-anchor="middle" transform="translate(264.75 609.50) scale(0.87 1)" fill="#000" stroke="#000" stroke-width="0.36" letter-spacing="0.25">12.5</text>
<text x="212.70" y="621.90" font-size="9.05" text-anchor="middle" fill="#000" stroke="#000" stroke-width="0.23" letter-spacing="0.07">Survival (years)</text>
<text font-size="9.1" text-anchor="middle" transform="translate(126.40 566.00) rotate(-90)" fill="#000" stroke="#000" stroke-width="0.23" letter-spacing="0.07">probability</text>
<text x="240.00" y="531.10" font-size="10.2" font-weight="bold" fill="#000" stroke="#000" stroke-width="0.24" style="white-space:pre"><tspan font-style="italic">P</tspan><tspan dx="3.6">=</tspan><tspan dx="0.83"> .03</tspan></text>
<path d="M158.00 525.20L159.50 525.60L159.50 548.00L161.00 548.00L161.00 571.00L170.50 571.00" fill="none" stroke="#949494" stroke-width="1.25" stroke-dasharray="1.7 0.5"/>
<path d="M158.30 525.10H159.60V526.10H161.00V529.50H161.83V531.83H162.67V534.17H163.50V536.50H165.50V538.50H167.50V540.50H168.67V542.67H169.83V544.83H171.00V547.00H172.75V549.75H174.50V552.50H176.75V553.75H179.00V555.00H181.50V557.75H184.00V560.50H187.00V563.50H190.00V566.50H192.50V568.25H195.00V570.00H197.50V572.25H200.00V574.50H202.50V576.00H205.00V577.50H207.08V578.00H209.17V578.50H211.25V579.00H213.12V580.25H215.00V581.50H217.50V582.30H220.00V583.10H222.50V583.50H225.00V583.90H226.88V585.08H228.75V586.25H230.62V586.88H232.50V587.50H233.75V588.75L247.50 588.75H248.25V591.75L270.00 591.75" fill="none" stroke="#0c0c0c" stroke-width="1.0" stroke-linejoin="round"/>
<line x1="270.00" y1="590.55" x2="270.00" y2="592.95" stroke="#1a1a1a" stroke-width="0.9"/>
<line x1="388.40" y1="575.50" x2="518.50" y2="575.50" stroke="#6c6c6c" stroke-width="1.0"/>
<line x1="388.40" y1="567.50" x2="518.50" y2="567.50" stroke="#6c6c6c" stroke-width="1.0"/>
<line x1="388.40" y1="559.50" x2="518.50" y2="559.50" stroke="#6c6c6c" stroke-width="1.0"/>
<line x1="388.40" y1="550.50" x2="518.50" y2="550.50" stroke="#6c6c6c" stroke-width="1.0"/>
<line x1="388.40" y1="542.50" x2="518.50" y2="542.50" stroke="#6c6c6c" stroke-width="1.0"/>
<line x1="388.40" y1="533.50" x2="518.50" y2="533.50" stroke="#6c6c6c" stroke-width="1.0"/>
<line x1="388.40" y1="525.50" x2="518.50" y2="525.50" stroke="#6c6c6c" stroke-width="1.0"/>
<line x1="388.40" y1="517.50" x2="518.50" y2="517.50" stroke="#6c6c6c" stroke-width="1.0"/>
<line x1="388.40" y1="508.50" x2="518.50" y2="508.50" stroke="#6c6c6c" stroke-width="1.0"/>
<line x1="390.00" y1="508.12" x2="390.00" y2="576.40" stroke="#777" stroke-width="1.1"/>
<text font-size="9.6" text-anchor="end" transform="translate(385.50 578.95) scale(0.9 1)" fill="#000" stroke="#000" stroke-width="0.28">0</text>
<text font-size="9.6" text-anchor="end" transform="translate(386.20 562.13) scale(0.9 1)" fill="#000" stroke="#000" stroke-width="0.28">1.0</text>
<text font-size="9.6" text-anchor="end" transform="translate(386.20 545.31) scale(0.9 1)" fill="#000" stroke="#000" stroke-width="0.28">2.0</text>
<text font-size="9.6" text-anchor="end" transform="translate(386.20 528.49) scale(0.9 1)" fill="#000" stroke="#000" stroke-width="0.28">3.0</text>
<text font-size="9.6" text-anchor="end" transform="translate(386.20 511.67) scale(0.9 1)" fill="#000" stroke="#000" stroke-width="0.28">4.0</text>
<rect x="393.80" y="509.46" width="5.10" height="66.44" fill="#000"/>
<rect x="406.73" y="539.74" width="5.10" height="36.16" fill="#000"/>
<rect x="419.66" y="543.94" width="5.10" height="31.96" fill="#000"/>
<rect x="432.59" y="543.94" width="5.10" height="31.96" fill="#000"/>
<rect x="445.52" y="548.99" width="5.10" height="26.91" fill="#000"/>
<rect x="458.45" y="549.83" width="5.10" height="26.07" fill="#000"/>
<rect x="471.38" y="550.67" width="5.10" height="25.23" fill="#b3b3b3"/>
<rect x="484.31" y="550.67" width="5.10" height="25.23" fill="#000"/>
<rect x="497.24" y="550.67" width="5.10" height="25.23" fill="#000"/>
<rect x="510.17" y="550.67" width="5.10" height="25.23" fill="#000"/>
<text font-size="8.8" text-anchor="end" font-style="italic" transform="translate(400.35 579.30) rotate(-90)" fill="#000" stroke="#000" stroke-width="0.34">CENTG1</text>
<text font-size="8.8" text-anchor="end" font-style="italic" transform="translate(413.28 579.30) rotate(-90)" fill="#000" stroke="#000" stroke-width="0.34">DTX3</text>
<text font-size="8.8" text-anchor="end" font-style="italic" transform="translate(426.21 579.30) rotate(-90)" fill="#000" stroke="#000" stroke-width="0.34">KIF5A</text>
<text font-size="8.8" text-anchor="end" font-style="italic" transform="translate(439.14 579.30) rotate(-90)" fill="#000" stroke="#000" stroke-width="0.34">MBD6</text>
<text font-size="8.8" text-anchor="end" font-style="italic" transform="translate(452.07 579.30) rotate(-90)" fill="#000" stroke="#000" stroke-width="0.34">DDIT3</text>
<text font-size="8.8" text-anchor="end" font-style="italic" transform="translate(465.00 579.30) rotate(-90)" fill="#000" stroke="#000" stroke-width="0.34">PIP5K2C</text>
<text font-size="8.8" text-anchor="end" font-style="italic" transform="translate(477.93 579.30) rotate(-90)" fill="#000" stroke="#000" stroke-width="0.34">B4GALNT1</text>
<text font-size="8.8" text-anchor="end" font-style="italic" transform="translate(490.86 579.30) rotate(-90)" fill="#000" stroke="#000" stroke-width="0.34">MARCH9</text>
<text font-size="8.8" text-anchor="end" font-style="italic" transform="translate(503.79 579.30) rotate(-90)" fill="#000" stroke="#000" stroke-width="0.34">DCTN2</text>
<text font-size="8.8" text-anchor="end" font-style="italic" transform="translate(516.72 579.30) rotate(-90)" fill="#000" stroke="#000" stroke-width="0.34">CDK4</text>
<text x="326.00" y="536.10" font-size="9.05" text-anchor="middle" fill="#000" stroke="#000" stroke-width="0.26" letter-spacing="0.07">Fold change</text>
<text x="326.00" y="547.10" font-size="9.05" text-anchor="middle" fill="#000" stroke="#000" stroke-width="0.26" letter-spacing="0.07">in gene</text>
<text x="327.50" y="558.10" font-size="9.05" text-anchor="middle" fill="#000" stroke="#000" stroke-width="0.26" letter-spacing="0.07">expression</text>
<text x="327.60" y="569.10" font-size="9.05" text-anchor="middle" fill="#000" stroke="#000" stroke-width="0.26" letter-spacing="0.07">(MCR+/MCR-)</text>
<text x="327.50" y="580.10" font-size="9.05" text-anchor="middle" fill="#000" stroke="#000" stroke-width="0.26" letter-spacing="0.07">(log2)</text>
</g>
<g id="panel-F">
<text font-size="25.6" font-weight="bold" transform="translate(1.40 646.40) scale(1.0 1)" fill="#000" stroke="#fff" stroke-width="0.3">F</text>
<text x="17.80" y="661.80" font-size="12.66" fill="#000" stroke="#000" stroke-width="0.34">Double loss</text>
<text x="19.50" y="676.60" font-size="12.66" fill="#000" stroke="#000" stroke-width="0.34">2q13</text>
<text x="18.90" y="691.00" font-size="9.2" fill="#000" stroke="#000" stroke-width="0.34">(MCR578)</text>
<rect x="151.50" y="654.10" width="126.20" height="77.70" fill="none" stroke="#0a0a0a" stroke-width="1.35"/>
<line x1="149.50" y1="728.30" x2="151.50" y2="728.30" stroke="#333" stroke-width="0.9"/>
<text font-size="9.9" text-anchor="end" transform="translate(148.45 731.75) scale(0.87 1)" fill="#000" stroke="#000" stroke-width="0.36" letter-spacing="0.25">0.0</text>
<line x1="149.50" y1="714.20" x2="151.50" y2="714.20" stroke="#333" stroke-width="0.9"/>
<text font-size="9.9" text-anchor="end" transform="translate(148.45 717.65) scale(0.87 1)" fill="#000" stroke="#000" stroke-width="0.36" letter-spacing="0.25">0.2</text>
<line x1="149.50" y1="700.10" x2="151.50" y2="700.10" stroke="#333" stroke-width="0.9"/>
<text font-size="9.9" text-anchor="end" transform="translate(148.45 703.55) scale(0.87 1)" fill="#000" stroke="#000" stroke-width="0.36" letter-spacing="0.25">0.4</text>
<line x1="149.50" y1="686.00" x2="151.50" y2="686.00" stroke="#333" stroke-width="0.9"/>
<text font-size="9.9" text-anchor="end" transform="translate(148.45 689.45) scale(0.87 1)" fill="#000" stroke="#000" stroke-width="0.36" letter-spacing="0.25">0.6</text>
<line x1="149.50" y1="671.90" x2="151.50" y2="671.90" stroke="#333" stroke-width="0.9"/>
<text font-size="9.9" text-anchor="end" transform="translate(148.45 675.35) scale(0.87 1)" fill="#000" stroke="#000" stroke-width="0.36" letter-spacing="0.25">0.8</text>
<line x1="149.50" y1="657.80" x2="151.50" y2="657.80" stroke="#333" stroke-width="0.9"/>
<text font-size="9.9" text-anchor="end" transform="translate(148.45 661.25) scale(0.87 1)" fill="#000" stroke="#000" stroke-width="0.36" letter-spacing="0.25">1.0</text>
<line x1="163.00" y1="731.80" x2="163.00" y2="733.80" stroke="#333" stroke-width="0.9"/>
<text font-size="9.9" text-anchor="middle" transform="translate(163.00 742.00) scale(0.87 1)" fill="#000" stroke="#000" stroke-width="0.36" letter-spacing="0.25">0</text>
<line x1="183.90" y1="731.80" x2="183.90" y2="733.80" stroke="#333" stroke-width="0.9"/>
<text font-size="9.9" text-anchor="middle" transform="translate(183.90 742.00) scale(0.87 1)" fill="#000" stroke="#000" stroke-width="0.36" letter-spacing="0.25">2.5</text>
<line x1="204.80" y1="731.80" x2="204.80" y2="733.80" stroke="#333" stroke-width="0.9"/>
<text font-size="9.9" text-anchor="middle" transform="translate(204.80 742.00) scale(0.87 1)" fill="#000" stroke="#000" stroke-width="0.36" letter-spacing="0.25">5</text>
<line x1="225.70" y1="731.80" x2="225.70" y2="733.80" stroke="#333" stroke-width="0.9"/>
<text font-size="9.9" text-anchor="middle" transform="translate(225.70 742.00) scale(0.87 1)" fill="#000" stroke="#000" stroke-width="0.36" letter-spacing="0.25">7.5</text>
<line x1="246.60" y1="731.80" x2="246.60" y2="733.80" stroke="#333" stroke-width="0.9"/>
<text font-size="9.9" text-anchor="middle" transform="translate(246.60 742.00) scale(0.87 1)" fill="#000" stroke="#000" stroke-width="0.36" letter-spacing="0.25">10</text>
<line x1="267.50" y1="731.80" x2="267.50" y2="733.80" stroke="#333" stroke-width="0.9"/>
<text font-size="9.9" text-anchor="middle" transform="translate(269.50 742.00) scale(0.87 1)" fill="#000" stroke="#000" stroke-width="0.36" letter-spacing="0.25">12.5</text>
<text x="213.30" y="755.20" font-size="9.05" text-anchor="middle" fill="#000" stroke="#000" stroke-width="0.23" letter-spacing="0.07">Survival (years)</text>
<text font-size="9.1" text-anchor="middle" transform="translate(126.40 698.50) rotate(-90)" fill="#000" stroke="#000" stroke-width="0.23" letter-spacing="0.07">probability</text>
<text x="234.60" y="665.40" font-size="10.2" font-weight="bold" fill="#000" stroke="#000" stroke-width="0.24" style="white-space:pre"><tspan font-style="italic">P</tspan><tspan dx="1.8">&lt;</tspan><tspan dx="2.55"> .001</tspan></text>
<path d="M159.80 659.00L160.20 662.00L160.20 692.80L162.20 692.80L162.20 727.50" fill="none" stroke="#949494" stroke-width="1.25" stroke-dasharray="1.7 0.5"/>
<path d="M158.30 658.50H159.60V659.50H161.00V662.90H161.83V665.23H162.67V667.57H163.50V669.90H165.50V671.90H167.50V673.90H168.67V676.07H169.83V678.23H171.00V680.40H172.75V683.15H174.50V685.90H176.75V687.15H179.00V688.40H181.50V691.15H184.00V693.90H187.00V696.90H190.00V699.90H192.50V701.65H195.00V703.40H197.50V705.65H200.00V707.90H202.50V709.40H205.00V710.90H207.08V711.40H209.17V711.90H211.25V712.40H213.12V713.65H215.00V714.90H217.50V715.70H220.00V716.50H222.50V716.90H225.00V717.30H226.88V718.47H228.75V719.65H230.62V720.27H232.50V720.90H233.75V722.15L247.50 722.15H248.25V725.15L270.00 725.15" fill="none" stroke="#0c0c0c" stroke-width="1.0" stroke-linejoin="round"/>
<line x1="270.00" y1="723.95" x2="270.00" y2="726.35" stroke="#1a1a1a" stroke-width="0.9"/>
<line x1="390.75" y1="679.50" x2="518.50" y2="679.50" stroke="#6c6c6c" stroke-width="1.0"/>
<line x1="390.75" y1="696.50" x2="518.50" y2="696.50" stroke="#6c6c6c" stroke-width="1.0"/>
<line x1="390.75" y1="713.50" x2="518.50" y2="713.50" stroke="#6c6c6c" stroke-width="1.0"/>
<line x1="390.75" y1="730.50" x2="518.50" y2="730.50" stroke="#6c6c6c" stroke-width="1.0"/>
<line x1="390.75" y1="747.50" x2="518.50" y2="747.50" stroke="#6c6c6c" stroke-width="1.0"/>
<line x1="392.35" y1="679.00" x2="392.35" y2="748.28" stroke="#777" stroke-width="1.1"/>
<text font-size="10" text-anchor="end" transform="translate(388.00 683.75) scale(0.9 1)" fill="#000" stroke="#000" stroke-width="0.28">0</text>
<text font-size="10" text-anchor="end" transform="translate(388.70 700.35) scale(0.9 1)" fill="#000" stroke="#000" stroke-width="0.28">-0.5</text>
<text font-size="10" text-anchor="end" transform="translate(388.70 716.95) scale(0.9 1)" fill="#000" stroke="#000" stroke-width="0.28">-1.0</text>
<text font-size="10" text-anchor="end" transform="translate(388.70 733.55) scale(0.9 1)" fill="#000" stroke="#000" stroke-width="0.28">-1.5</text>
<text font-size="10" text-anchor="end" transform="translate(388.70 750.15) scale(0.9 1)" fill="#000" stroke="#000" stroke-width="0.28">-2.0</text>
<rect x="405.20" y="679.50" width="16.50" height="58.50" fill="#000"/>
<rect x="447.00" y="679.50" width="16.50" height="44.60" fill="#b3b3b3"/>
<rect x="489.00" y="679.50" width="17.00" height="14.60" fill="#b3b3b3"/>
<text font-size="9" font-style="italic" transform="translate(417.65 676.20) rotate(-90)" fill="#000" stroke="#000" stroke-width="0.34">BCL2L11</text>
<text font-size="9" font-style="italic" transform="translate(457.75 676.20) rotate(-90)" fill="#000" stroke="#000" stroke-width="0.34">ACOXL</text>
<text font-size="9" font-style="italic" transform="translate(499.70 676.20) rotate(-90)" fill="#000" stroke="#000" stroke-width="0.34">ANAPC1</text>
<text x="329.30" y="700.20" font-size="9.05" text-anchor="middle" fill="#000" stroke="#000" stroke-width="0.26" letter-spacing="0.07">Fold change</text>
<text x="329.30" y="711.20" font-size="9.05" text-anchor="middle" fill="#000" stroke="#000" stroke-width="0.26" letter-spacing="0.07">in gene</text>
<text x="330.80" y="722.20" font-size="9.05" text-anchor="middle" fill="#000" stroke="#000" stroke-width="0.26" letter-spacing="0.07">expression</text>
<text x="330.90" y="733.20" font-size="9.05" text-anchor="middle" fill="#000" stroke="#000" stroke-width="0.26" letter-spacing="0.07">(MCR+/MCR-)</text>
<text x="330.80" y="744.20" font-size="9.05" text-anchor="middle" fill="#000" stroke="#000" stroke-width="0.26" letter-spacing="0.07">(log2)</text>
</g>
</g>
</svg>
</body>
</html>
